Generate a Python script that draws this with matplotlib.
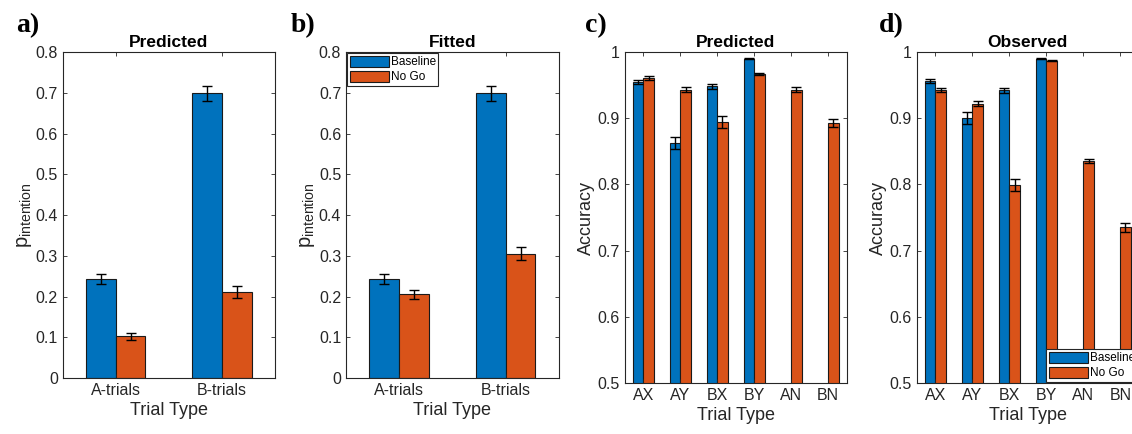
import numpy as np
import matplotlib.pyplot as plt

plt.rcParams['font.family'] = ['Liberation Sans', 'DejaVu Sans']

# intention probabilities (a, b)
pi_groups = ['A-trials', 'B-trials']
pred_base = [0.243, 0.699]
pred_base_err = [0.013, 0.018]
pred_nogo = [0.102, 0.212]
pred_nogo_err = [0.009, 0.015]
fit_base = [0.243, 0.699]
fit_base_err = [0.013, 0.018]
fit_nogo = [0.205, 0.305]
fit_nogo_err = [0.012, 0.016]

# accuracy per trial type (c, d)
trial_types = ['AX', 'AY', 'BX', 'BY', 'AN', 'BN']
acc_pred_base = [0.955, 0.862, 0.948, 0.990, np.nan, np.nan]
acc_pred_base_err = [0.003, 0.009, 0.004, 0.001, np.nan, np.nan]
acc_pred_nogo = [0.961, 0.943, 0.894, 0.967, 0.943, 0.893]
acc_pred_nogo_err = [0.003, 0.004, 0.009, 0.001, 0.004, 0.0065]
acc_obs_base = [0.957, 0.900, 0.942, 0.990, np.nan, np.nan]
acc_obs_base_err = [0.003, 0.009, 0.004, 0.0005, np.nan, np.nan]
acc_obs_nogo = [0.942, 0.922, 0.799, 0.987, 0.836, 0.735]
acc_obs_nogo_err = [0.003, 0.004, 0.009, 0.0008, 0.003, 0.0065]

blue = '#0072BD'
orange = '#D95319'
axcol = '#262626'
w = 0.28


def grouped(ax, labels, b, be, n, ne):
    x = np.arange(1, len(labels) + 1)
    hb = ax.bar(x - w / 2, b, w, color=blue, edgecolor='#1a1a1a', linewidth=0.8, label='Baseline')
    hn = ax.bar(x + w / 2, n, w, color=orange, edgecolor='#1a1a1a', linewidth=0.8, label='No Go')
    ax.errorbar(x - w / 2, b, yerr=be, fmt='none', ecolor='black', elinewidth=1, capsize=3.5, capthick=1)
    ax.errorbar(x + w / 2, n, yerr=ne, fmt='none', ecolor='black', elinewidth=1, capsize=3.5, capthick=1)
    ax.set_xticks(x)
    ax.set_xticklabels(labels)
    ax.set_xlim(0.5, len(labels) + 0.5)
    ax.set_xlabel('Trial Type', fontsize=13, color=axcol, labelpad=3)
    ax.tick_params(direction='in', top=True, right=True, labelsize=11.5, colors=axcol, length=3, width=0.6)
    for s in ax.spines.values():
        s.set_color(axcol)
        s.set_linewidth(0.8)
    return hb, hn


fig = plt.figure(figsize=(11.32, 4.34), dpi=100)
ax_a = fig.add_axes([0.0554, 0.129, 0.1875, 0.751])
ax_b = fig.add_axes([0.3057, 0.129, 0.188, 0.751])
ax_c = fig.add_axes([0.552, 0.1175, 0.196, 0.7625])
ax_d = fig.add_axes([0.810, 0.1175, 0.196, 0.7625])

grouped(ax_a, pi_groups, pred_base, pred_base_err, pred_nogo, pred_nogo_err)
grouped(ax_b, pi_groups, fit_base, fit_base_err, fit_nogo, fit_nogo_err)
grouped(ax_c, trial_types, acc_pred_base, acc_pred_base_err, acc_pred_nogo, acc_pred_nogo_err)
grouped(ax_d, trial_types, acc_obs_base, acc_obs_base_err, acc_obs_nogo, acc_obs_nogo_err)

for ax in (ax_a, ax_b):
    ax.set_ylim(0, 0.8)
    ax.set_yticks(np.arange(0, 0.81, 0.1))
    ax.set_yticklabels(['0'] + ['%.1f' % v for v in np.arange(0.1, 0.81, 0.1)])
    ax.set_ylabel(r'$\mathregular{p_{intention}}$', fontsize=14.5, color=axcol, labelpad=1)
for ax in (ax_c, ax_d):
    ax.set_ylim(0.5, 1)
    ax.set_yticks(np.arange(0.5, 1.01, 0.1))
    ax.set_yticklabels(['0.5', '0.6', '0.7', '0.8', '0.9', '1'])
    ax.set_ylabel('Accuracy', fontsize=13, color=axcol, labelpad=2)

for ax, t in zip((ax_a, ax_b, ax_c, ax_d), ('Predicted', 'Fitted', 'Predicted', 'Observed')):
    ax.set_title(t, fontsize=12.5, fontweight='bold', pad=4)

leg_kw = dict(fontsize=8.5, handlelength=3.3, handleheight=1.1, handletextpad=0.2,
              borderpad=0.2, labelspacing=0.2, fancybox=False, framealpha=1,
              edgecolor=axcol, borderaxespad=0.1)
lb = ax_b.legend(loc='upper left', **leg_kw)
lb.get_frame().set_linewidth(0.8)
ld = ax_d.legend(loc='lower right', **leg_kw)
ld.get_frame().set_linewidth(0.8)

for lab, xp in zip(['a)', 'b)', 'c)', 'd)'], [0.014, 0.257, 0.517, 0.776]):
    fig.text(xp, 0.94, lab, fontsize=20, fontweight='bold', family='Liberation Serif', va='center')

fig.savefig('out.png', dpi=100)
